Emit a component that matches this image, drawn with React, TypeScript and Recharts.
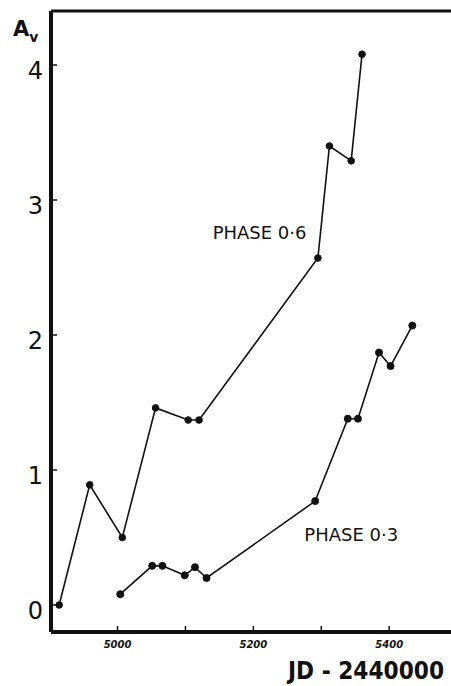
import { Label, Line, LineChart, ReferenceDot, ReferenceLine, XAxis, YAxis } from "recharts";

// JD - 2440000 and visual extinction A_v
const phase06Jd = [4914, 4959, 5007, 5056, 5104, 5120, 5295, 5312, 5344, 5360];
const phase06Av = [0.0, 0.89, 0.5, 1.46, 1.37, 1.37, 2.57, 3.4, 3.29, 4.08];
const phase03Jd = [5004, 5051, 5066, 5099, 5114, 5131, 5291, 5339, 5354, 5385, 5402, 5434];
const phase03Av = [0.08, 0.29, 0.29, 0.22, 0.28, 0.2, 0.77, 1.38, 1.38, 1.87, 1.77, 2.07];

const jdTicks = [5000, 5100, 5200, 5300, 5400];
const jdLabelled = [5000, 5200, 5400];
const avTicks = [0, 1, 2, 3, 4];

const phase06 = phase06Jd.map((jd, i) => ({ jd, av: phase06Av[i] }));
const phase03 = phase03Jd.map((jd, i) => ({ jd, av: phase03Av[i] }));

const INK = "#111";

function JdTick({ x, y, payload }: any) {
  if (!jdLabelled.includes(payload.value)) return null;
  return (
    <text
      x={x}
      y={y}
      textAnchor="middle"
      dominantBaseline="central"
      fontFamily="DejaVu Sans"
      fontSize={10}
      fontWeight="bold"
      fontStyle="italic"
      fill={INK}
    >
      {payload.value}
    </text>
  );
}

function AvTick({ x, y, payload }: any) {
  return (
    <text
      x={x}
      y={y + 6}
      textAnchor="end"
      dominantBaseline="central"
      fontFamily="DejaVu Sans"
      fontSize={24}
      fill={INK}
    >
      {payload.value}
    </text>
  );
}

function AvTitle({ viewBox }: any) {
  return (
    <text x={viewBox.x + 13} y={viewBox.y + 25} fontFamily="DejaVu Sans" fontWeight="bold" fill={INK}>
      <tspan fontSize={21}>A</tspan>
      <tspan fontSize={14} dy={6}>v</tspan>
    </text>
  );
}

function JdTitle({ viewBox }: any) {
  return (
    <text
      x={viewBox.x + 237}
      y={viewBox.y + 47}
      fontFamily="DejaVu Sans Condensed"
      fontWeight="bold"
      fontSize={25}
      textLength={156}
      lengthAdjust="spacingAndGlyphs"
      fill={INK}
    >
      JD - 2440000
    </text>
  );
}

const phaseLabel = {
  position: "right" as const,
  offset: 0,
  fontFamily: "DejaVu Sans",
  fontSize: 18,
  fill: INK,
};

export default function App() {
  return (
    <div style={{ position: "absolute", left: 0, top: 0, background: "#fff" }}>
      <LineChart width={451} height={686} margin={{ top: 11, right: 0, bottom: 0, left: 0 }}>
        <XAxis
          type="number"
          dataKey="jd"
          domain={[4902, 5491]}
          allowDataOverflow
          ticks={jdTicks}
          interval={0}
          height={54}
          axisLine={{ stroke: INK, strokeWidth: 4 }}
          tickLine={{ stroke: INK, strokeWidth: 1.5 }}
          tickSize={-6}
          tickMargin={18}
          tick={<JdTick />}
        >
          <Label content={<JdTitle />} />
        </XAxis>
        <YAxis
          type="number"
          domain={[-0.2, 4.4]}
          allowDataOverflow
          ticks={avTicks}
          interval={0}
          width={51}
          axisLine={{ stroke: INK, strokeWidth: 4 }}
          tickLine={{ stroke: INK, strokeWidth: 1.5 }}
          tickSize={-6}
          tickMargin={14}
          tick={<AvTick />}
        >
          <Label content={<AvTitle />} />
        </YAxis>
        <ReferenceLine y={4.4} stroke={INK} strokeWidth={3} />
        <Line
          data={phase06}
          dataKey="av"
          stroke={INK}
          strokeWidth={1.6}
          dot={{ r: 3.3, fill: INK, stroke: INK, strokeWidth: 1 }}
          activeDot={false}
          isAnimationActive={false}
        />
        <Line
          data={phase03}
          dataKey="av"
          stroke={INK}
          strokeWidth={1.6}
          dot={{ r: 3.5, fill: INK, stroke: INK, strokeWidth: 1 }}
          activeDot={false}
          isAnimationActive={false}
        />
        <ReferenceDot x={5140} y={2.76} r={0} label={{ ...phaseLabel, value: "PHASE 0·6" }} />
        <ReferenceDot x={5275} y={0.52} r={0} label={{ ...phaseLabel, value: "PHASE 0·3" }} />
      </LineChart>
    </div>
  );
}
